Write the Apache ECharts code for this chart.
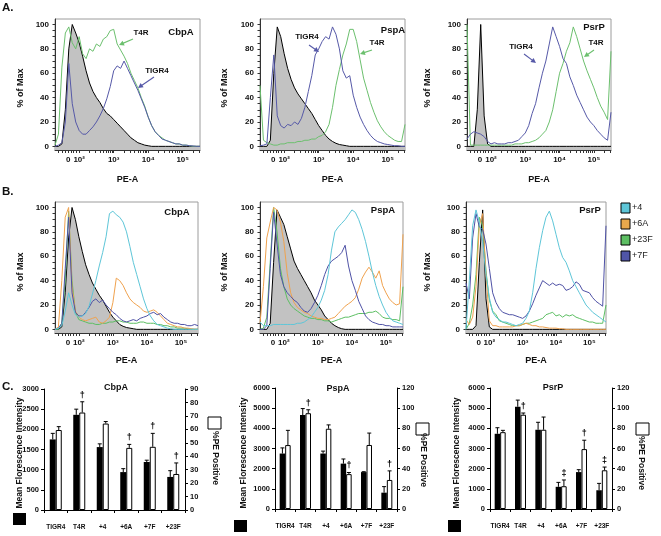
<!DOCTYPE html>
<html><head><meta charset="utf-8">
<script src="https://cdn.jsdelivr.net/npm/echarts@6/dist/echarts.min.js"></script>
<style>html,body{margin:0;padding:0;background:#fff}#c{width:661px;height:536px}</style>
</head><body><div id="c"></div>
<script>
const FONT = 'Arial, "Liberation Sans", sans-serif';

// ---------- histogram x positions (PE-A display units, decades) ----------
const xs = [1.3,1.4,1.5,1.6,1.7,1.8,1.9,2.0,2.1,2.2,2.3,2.4,2.5,2.6,2.7,2.8,2.9,3.0,3.1,3.2,3.3,3.4,3.5,3.6,3.7,3.8,3.9,4.0,4.1,4.2,4.3,4.4,4.5,4.6,4.7,4.8,4.9,5.0,5.1,5.2,5.3,5.4,5.5];
const peTickPos = [1.68, 2, 3, 4, 5];
const peTickLabels = ['0', '10²', '10³', '10⁴', '10⁵'];
const pctTickLabels = [0, 20, 40, 60, 80, 100];

// ---------- Panel A: % of Max ----------
const aCbpA_iso   = [0,0,2,30,80,100,93,85,74,62,52,45,40,36,31,27,25,22,19,16,13,10,7,5,3,2,1,0.5,0,0,0,0,0,0,0,0,0,0,0,0,0,0,0];
const aCbpA_T4R   = [1,10,65,93,98,85,80,90,76,72,80,78,84,82,88,90,95,96,84,79,74,68,60,54,48,40,33,24,17,12,9,7,5,4,3,2,2,1,1,0.5,0,0,0];
const aCbpA_TIGR4 = [0,1,3,20,68,35,20,13,10,10,13,16,20,25,31,39,49,62,66,64,70,64,58,52,46,39,32,24,17,12,9,6,5,4,3,2,2,1,1,0.5,0.3,0,0];

const aPspA_iso   = [0,0,0,5,60,98,90,76,64,55,48,43,39,35,31,27,22,17,13,9,6,4,2.5,1.5,1,0.5,0,0,0,0,0,0,0,0,0,0,0,0,0,0,0,0,0];
const aPspA_T4R   = [50,5,3,2,1,1,2,2,3,3,3,4,4,5,5,6,6,8,9,12,18,32,50,63,75,84,96,96,86,71,56,46,36,28,21,16,12,9,7,5,4,4,18];
const aPspA_TIGR4 = [0.5,1,2,40,75,25,17,15,18,17,20,18,23,32,45,58,75,80,86,90,88,98,92,80,62,56,58,42,32,24,18,13,9,6,4,3,2,1.5,1,0.5,0.5,0,0];

const aPsrP_iso   = [0,0,0,30,100,25,2,0,0,0,0,0,0,0,0,0,0,0,0,0,0,0,0,0,0,0,0,0,0,0,0,0,0,0,0,0,0,0,0,0,0,0,0];
const aPsrP_T4R   = [100,1,1,1,1,1,1,1,1,1,1,1,1,1,2,2,2,3,3,4,5,7,10,13,20,30,45,60,68,78,85,98,90,80,70,62,55,48,40,33,28,22,78];
const aPsrP_TIGR4 = [6,10,12,11,10,8,4,2,3,2,2,2,3,3,4,5,8,11,17,27,35,48,60,70,84,98,90,82,72,68,57,50,42,36,30,24,20,17,13,10,7,5,28];

// ---------- Panel B: % of Max ----------
const bCbpA_iso = [0,0,2,30,75,100,90,76,64,53,45,38,33,28,24,19,14,10,7,4,2.5,1.5,1,0.5,0,0,0,0,0,0,0,0,0,0,0,0,0,0,0,0,0,0,0];
const bCbpA_4   = [0,1,3,15,30,20,12,10,11,13,19,29,40,52,63,76,95,97,94,92,88,80,68,55,45,35,25,17,11,7,4,3,2,1,0.5,0,0,0,0,0,0,0,0];
const bCbpA_6A  = [0,2,40,92,100,35,15,10,8,7,8,9,10,6,5,7,10,22,42,40,36,30,25,22,20,18,15,14,15,16,14,11,8,5,4,3,2,2,1,1,0.5,0,0];
const bCbpA_23F = [0,0,5,40,97,40,14,8,7,6,5,5,4,4,5,5,6,6,7,7,6,6,5,5,5,6,6,5,5,5,4,4,3,3,2,2,1,1,1,0.5,0,0,0];
const bCbpA_7F  = [0,1,5,50,92,30,14,11,11,14,18,23,25,22,24,20,17,14,12,9,7,6,7,8,7,9,10,11,13,14,12,13,10,8,6,5,5,4,4,3,3,4,3];

const bPspA_iso = [0,0,0,5,55,98,92,86,76,66,56,50,45,40,35,30,24,20,16,11,8,5,3,1.5,0.5,0,0,0,0,0,0,0,0,0,0,0,0,0,0,0,0,0,0];
const bPspA_4   = [6,3,3,3,4,4,4,4,4,4,4,5,5,6,8,10,14,18,24,32,45,65,80,84,87,90,94,98,96,90,82,72,60,47,36,27,20,14,10,7,6,5,4];
const bPspA_6A  = [5,35,75,88,100,98,88,72,46,30,22,18,16,14,13,11,10,9,9,8,8,9,10,13,16,19,21,23,26,33,42,47,51,47,42,48,36,30,25,22,20,21,78];
const bPspA_23F = [0,1,10,55,100,80,50,35,25,20,17,15,13,11,10,9,9,8,8,7,7,6,7,8,9,10,10,11,12,13,13,13,14,14,15,13,10,9,9,8,8,7,35];
const bPspA_7F  = [0,0,3,50,96,70,45,35,30,27,24,22,18,15,14,17,22,28,36,45,52,56,58,60,63,69,52,40,32,23,17,11,8,6,5,4,4,3,3,2,2,2,2];

const bPsrP_iso = [0,0,0,3,55,98,25,2,0,0,0,0,0,0,0,0,0,0,0,0,0,0,0,0,0,0,0,0,0,0,0,0,0,0,0,0,0,0,0,0,0,0,0];
const bPsrP_4   = [0,40,85,98,88,72,45,26,14,10,8,6,6,5,4,3,4,5,9,15,30,50,67,81,92,97,89,78,67,59,55,48,40,35,30,25,20,17,14,12,10,8,6];
const bPsrP_6A  = [8,4,10,35,85,95,45,7,3,3,2,2,2,2,2,3,3,4,5,4,3,3,2,2,1.5,1,1,1,0.5,0.5,0,0,0,0,0,0,0,0,0,0,0,0,0];
const bPsrP_23F = [0,5,20,45,92,85,48,24,15,12,7,6,5,4,3,3,3,4,5,5,6,7,8,9,12,13,14,11,12,10,12,11,12,10,9,8,7,6,6,5,5,5,20];
const bPsrP_7F  = [38,25,75,95,84,82,70,50,30,22,17,14,13,12,12,11,10,9,11,15,21,28,34,40,38,36,38,36,37,36,32,33,35,39,37,32,31,30,26,23,21,19,85];

// ---------- Panel C: bars ----------
const barCats = ['TIGR4', 'T4R', '+4', '+6A', '+7F', '+23F'];
const cCbpA_mfi     = [1750, 2360, 1560, 940, 1190, 820];
const cCbpA_mfiTop  = [1900, 2500, 1640, 1025, 1235, 975];
const cCbpA_pct     = [59.5, 72.5, 64.3, 46.2, 47, 26.8];
const cCbpA_pctTop  = [62, 80.5, 65.8, 48.8, 57, 35];
const cCbpA_marks   = ['', '†', '', '†', '†', '†'];

const cPspA_mfi     = [2750, 4660, 2750, 2250, 1830, 810];
const cPspA_mfiTop  = [3030, 4980, 2870, 2480, 1850, 1110];
const cPspA_pct     = [63.4, 95, 79.6, 34.6, 63.5, 28.8];
const cPspA_pctTop  = [78, 98.4, 83.4, 36.2, 75.3, 37.8];
const cPspA_marks   = ['', '†', '', '†', '', '†'];

const cPsrP_mfi     = [3730, 5070, 3930, 1100, 1830, 930];
const cPsrP_mfiTop  = [4030, 5400, 4300, 1320, 1950, 1270];
const cPsrP_pct     = [76.2, 93.5, 78.6, 22.6, 59.4, 38.4];
const cPsrP_pctTop  = [78, 95.2, 91.2, 28.8, 68.2, 41.6];
const cPsrP_marks   = ['', '†', '', '‡', '†', '‡'];

// ---------- colours ----------
const COL = {
  iso: '#c2c2c2', aGreen: '#6cc06e', aBlue: '#5659a8',
  c4: '#5ec6d8', c6A: '#f0a24e', c23F: '#5dbf63', c7F: '#4f52a6'
};

// ---------- layout ----------
const histGrids = [
  {left: 55,  top: 19,  width: 145},
  {left: 260, top: 19,  width: 145},
  {left: 467, top: 19,  width: 144},
  {left: 55,  top: 202, width: 143},
  {left: 260, top: 202, width: 143},
  {left: 466, top: 202, width: 140}
];
const barGrids = [
  {left: 44,  top: 389, width: 141, bw: 6},
  {left: 275, top: 388, width: 122, bw: 5.5},
  {left: 490, top: 388, width: 122, bw: 5.5}
];

const peMinor = [1.4, 1.5, 1.6, 1.68, 1.76, 1.84, 1.92];
for (let d = 2; d <= 5; d++) for (let k = 1; k <= 9; k++) {
  const v = d + Math.log10(k); if (v <= 5.5) peMinor.push(+v.toFixed(4));
}
const pctMinor = []; for (let v = 0; v <= 100; v += 5) pctMinor.push(v);

const grids = [], xAxes = [], yAxes = [], series = [];
histGrids.forEach((g, i) => {
  grids.push({left: g.left, top: g.top, width: g.width, height: 131, show: true,
    borderColor: '#9c9c9c', borderWidth: 1, backgroundColor: 'transparent', outerBoundsMode: 'none'});
  xAxes.push({type: 'value', gridIndex: i, min: 1.3, max: 5.5, position: 'bottom',
    axisLine: {show: true, onZero: false, lineStyle: {color: '#333', width: 1}},
    axisTick: {show: true, customValues: peMinor, length: 3, lineStyle: {color: '#333'}},
    axisLabel: {customValues: peTickPos, margin: 6, fontSize: 8, fontWeight: 'bold', color: '#111', fontFamily: FONT,
      formatter: v => { const k = peTickPos.findIndex(p => Math.abs(p - v) < 1e-6); return k >= 0 ? peTickLabels[k] : ''; }},
    splitLine: {show: false}});
  yAxes.push({type: 'value', gridIndex: i, min: -3, max: 104.5, position: 'left',
    axisLine: {show: true, onZero: false, lineStyle: {color: '#333', width: 1}},
    axisTick: {show: true, customValues: pctMinor, length: 2.5, lineStyle: {color: '#333'}},
    axisLabel: {customValues: pctTickLabels, margin: 6, fontSize: 8, fontWeight: 'bold', color: '#111', fontFamily: FONT},
    splitLine: {show: false}});
});

function pts(arr) { return xs.map((x, i) => [x, arr[i]]); }
function isoSeries(idx, arr) {
  return {type: 'line', xAxisIndex: idx, yAxisIndex: idx, data: pts(arr), showSymbol: false, symbol: 'none',
    lineStyle: {color: '#000', width: 1}, areaStyle: {color: COL.iso, opacity: 1, origin: 'start'}, z: 2, silent: true};
}
function lineSeries(idx, arr, color) {
  return {type: 'line', xAxisIndex: idx, yAxisIndex: idx, data: pts(arr), showSymbol: false, symbol: 'none',
    lineStyle: {color: color, width: 1}, z: 3, silent: true};
}
series.push(isoSeries(0, aCbpA_iso), lineSeries(0, aCbpA_T4R, COL.aGreen), lineSeries(0, aCbpA_TIGR4, COL.aBlue));
series.push(isoSeries(1, aPspA_iso), lineSeries(1, aPspA_T4R, COL.aGreen), lineSeries(1, aPspA_TIGR4, COL.aBlue));
series.push(isoSeries(2, aPsrP_iso), lineSeries(2, aPsrP_T4R, COL.aGreen), lineSeries(2, aPsrP_TIGR4, COL.aBlue));
[[3, bCbpA_iso, bCbpA_4, bCbpA_6A, bCbpA_23F, bCbpA_7F],
 [4, bPspA_iso, bPspA_4, bPspA_6A, bPspA_23F, bPspA_7F],
 [5, bPsrP_iso, bPsrP_4, bPsrP_6A, bPsrP_23F, bPsrP_7F]].forEach(p => {
  const [i, iso, s4, s6, s23, s7] = p;
  series.push(isoSeries(i, iso), lineSeries(i, s23, COL.c23F), lineSeries(i, s6, COL.c6A),
              lineSeries(i, s7, COL.c7F), lineSeries(i, s4, COL.c4));
});

// ---------- bar panels ----------
function errRender(offsetSign, bw, marks) {
  return function (params, api) {
    const i = api.value(0), v = api.value(1), t = api.value(2);
    const p0 = api.coord([i, v]), p1 = api.coord([i, t]);
    const x = p0[0] + offsetSign * bw / 2;
    const ch = [
      {type: 'line', shape: {x1: x, y1: p0[1], x2: x, y2: p1[1]}, style: {stroke: '#000', lineWidth: 1}},
      {type: 'line', shape: {x1: x - 2, y1: p1[1], x2: x + 2, y2: p1[1]}, style: {stroke: '#000', lineWidth: 1}}
    ];
    if (marks && marks[i]) ch.push({type: 'text', style: {text: marks[i], x: x, y: p1[1] - 2, align: 'center',
      verticalAlign: 'bottom', font: 'bold 9px ' + FONT, fill: '#000'}});
    return {type: 'group', children: ch};
  };
}
const barSets = [
  {mfi: cCbpA_mfi, mfiTop: cCbpA_mfiTop, pct: cCbpA_pct, pctTop: cCbpA_pctTop, marks: cCbpA_marks, lmax: 3000, lint: 500, rmax: 90, rint: 10},
  {mfi: cPspA_mfi, mfiTop: cPspA_mfiTop, pct: cPspA_pct, pctTop: cPspA_pctTop, marks: cPspA_marks, lmax: 6000, lint: 1000, rmax: 120, rint: 20},
  {mfi: cPsrP_mfi, mfiTop: cPsrP_mfiTop, pct: cPsrP_pct, pctTop: cPsrP_pctTop, marks: cPsrP_marks, lmax: 6000, lint: 1000, rmax: 120, rint: 20}
];
const plain = v => String(v);
barGrids.forEach((g, k) => {
  const gi = 6 + k;
  const s = barSets[k];
  grids.push({left: g.left, top: g.top, width: g.width, height: 121, show: false, outerBoundsMode: 'none'});
  const xi = xAxes.length;
  xAxes.push({type: 'category', gridIndex: gi, data: barCats, position: 'bottom',
    axisLine: {show: true, onZero: false, lineStyle: {color: '#000', width: 1}},
    axisTick: {show: true, alignWithLabel: false, length: 3, lineStyle: {color: '#000'}},
    axisLabel: {margin: 14, fontSize: 6.5, fontWeight: 'bold', color: '#111', fontFamily: FONT, interval: 0},
    splitLine: {show: false}});
  const yl = yAxes.length;
  yAxes.push({type: 'value', gridIndex: gi, min: 0, max: s.lmax, interval: s.lint, position: 'left',
    axisLine: {show: true, onZero: false, lineStyle: {color: '#000', width: 1}},
    axisTick: {show: true, length: 3, lineStyle: {color: '#000'}},
    axisLabel: {margin: 5, fontSize: 7.5, fontWeight: 'bold', color: '#111', fontFamily: FONT, formatter: plain},
    splitLine: {show: false}});
  const yr = yAxes.length;
  yAxes.push({type: 'value', gridIndex: gi, min: 0, max: s.rmax, interval: s.rint, position: 'right',
    axisLine: {show: true, onZero: false, lineStyle: {color: '#000', width: 1}},
    axisTick: {show: true, length: 3, lineStyle: {color: '#000'}},
    axisLabel: {margin: 5, fontSize: 7.5, fontWeight: 'bold', color: '#111', fontFamily: FONT, formatter: plain},
    splitLine: {show: false}});
  series.push({type: 'bar', xAxisIndex: xi, yAxisIndex: yl, data: s.mfi, barWidth: g.bw, barGap: '0%',
    itemStyle: {color: '#000'}, silent: true, z: 2});
  series.push({type: 'bar', xAxisIndex: xi, yAxisIndex: yr, data: s.pct, barWidth: g.bw, barGap: '0%',
    itemStyle: {color: '#fff', borderColor: '#000', borderWidth: 1}, silent: true, z: 2});
  series.push({type: 'custom', xAxisIndex: xi, yAxisIndex: yl, renderItem: errRender(-1, g.bw, null),
    data: barCats.map((c, i) => [i, s.mfi[i], s.mfiTop[i]]), encode: {x: 0, y: [1, 2]}, silent: true, z: 3});
  series.push({type: 'custom', xAxisIndex: xi, yAxisIndex: yr, renderItem: errRender(1, g.bw, s.marks),
    data: barCats.map((c, i) => [i, s.pct[i], s.pctTop[i]]), encode: {x: 0, y: [1, 2]}, silent: true, z: 3});
});

// ---------- text / decorations ----------
function txt(x, y, t, o) {
  o = o || {};
  return {type: 'text', x: x, y: y, rotation: o.rot || 0, silent: true, z: 10,
    style: {text: t, x: 0, y: 0, align: o.align || 'center', verticalAlign: 'middle',
      font: (o.weight || 'bold') + ' ' + (o.size || 9) + 'px ' + FONT, fill: o.color || '#111'}};
}
function arrow(x1, y1, x2, y2, color) {
  const dx = x2 - x1, dy = y2 - y1, L = Math.hypot(dx, dy), ux = dx / L, uy = dy / L, nx = -uy, ny = ux, h = 5, w = 2.6;
  return [
    {type: 'line', silent: true, z: 10, shape: {x1: x1, y1: y1, x2: x2 - ux * h * 0.7, y2: y2 - uy * h * 0.7}, style: {stroke: color, lineWidth: 1.1}},
    {type: 'polygon', silent: true, z: 10, shape: {points: [[x2, y2], [x2 - ux * h + nx * w, y2 - uy * h + ny * w], [x2 - ux * h - nx * w, y2 - uy * h - ny * w]]}, style: {fill: color}}
  ];
}
const R90 = Math.PI / 2;
const graphics = [
  txt(2, 8, 'A.', {align: 'left', size: 11.5}),
  txt(2, 192, 'B.', {align: 'left', size: 11.5}),
  txt(2, 387, 'C.', {align: 'left', size: 11.5}),
  txt(181, 32, 'CbpA', {size: 9.5}), txt(393, 30, 'PspA', {size: 9.5}), txt(594, 27, 'PsrP', {size: 9.5}),
  txt(177, 212, 'CbpA', {size: 9.5}), txt(383, 210, 'PspA', {size: 9.5}), txt(590, 210, 'PsrP', {size: 9.5}),
  txt(141, 33, 'T4R', {size: 8}), ...arrow(133, 39, 119, 45, COL.aGreen),
  txt(157, 71, 'TIGR4', {size: 8}), ...arrow(154, 77, 138, 88, COL.aBlue),
  txt(307, 37, 'TIGR4', {size: 8}), ...arrow(309, 45, 319, 52, COL.aBlue),
  txt(377, 43, 'T4R', {size: 8}), ...arrow(372, 50, 360, 54, COL.aGreen),
  txt(521, 47, 'TIGR4', {size: 8}), ...arrow(524, 54, 536, 63, COL.aBlue),
  txt(596, 43, 'T4R', {size: 8}), ...arrow(594, 50, 584, 57, COL.aGreen)
];
[[21, 88], [225, 88], [428, 88], [21, 272], [225, 272], [428, 272]].forEach(p =>
  graphics.push(txt(p[0], p[1], '% of Max', {rot: R90, size: 9})));
histGrids.forEach((g, i) => graphics.push(txt(g.left + g.width / 2, i < 3 ? 180 : 361, 'PE-A', {size: 9})));
// legend for panel B
[['+4', COL.c4], ['+6A', '#e9a84c'], ['+23F', COL.c23F], ['+7F', '#5055a8']].forEach((l, k) => {
  const y = 203 + k * 16;
  graphics.push({type: 'rect', silent: true, shape: {x: 621, y: y, width: 9, height: 10},
    style: {fill: l[1], stroke: '#000', lineWidth: 1}});
  graphics.push(txt(632, y + 5, l[0], {align: 'left', weight: 'normal', size: 9, color: '#222'}));
});
// bar panel labels
[['CbpA', 116, 388], ['PspA', 338, 389], ['PsrP', 553, 388]].forEach(t => graphics.push(txt(t[1], t[2], t[0], {size: 9})));
[20, 244, 457].forEach(x => graphics.push(txt(x, 453, 'Mean Florescence Intensity', {rot: R90, size: 8.5})));
[[215, 458], [423, 460], [641, 463]].forEach(p => graphics.push(txt(p[0], p[1], '%PE Positive', {rot: -R90, size: 8.5})));
[[208, 417], [416, 423], [636, 423]].forEach(p => graphics.push({type: 'rect', silent: true,
  shape: {x: p[0], y: p[1], width: 13, height: 12}, style: {fill: '#fff', stroke: '#000', lineWidth: 1}}));
[[13, 513], [234, 520], [448, 520]].forEach(p => graphics.push({type: 'rect', silent: true,
  shape: {x: p[0], y: p[1], width: 13, height: 12}, style: {fill: '#000'}}));

const chart = echarts.init(document.getElementById('c'), null, {renderer: 'canvas'});
chart.setOption({
  animation: false,
  backgroundColor: '#fff',
  grid: grids, xAxis: xAxes, yAxis: yAxes, series: series,
  graphic: {elements: graphics}
});
</script></body></html>
